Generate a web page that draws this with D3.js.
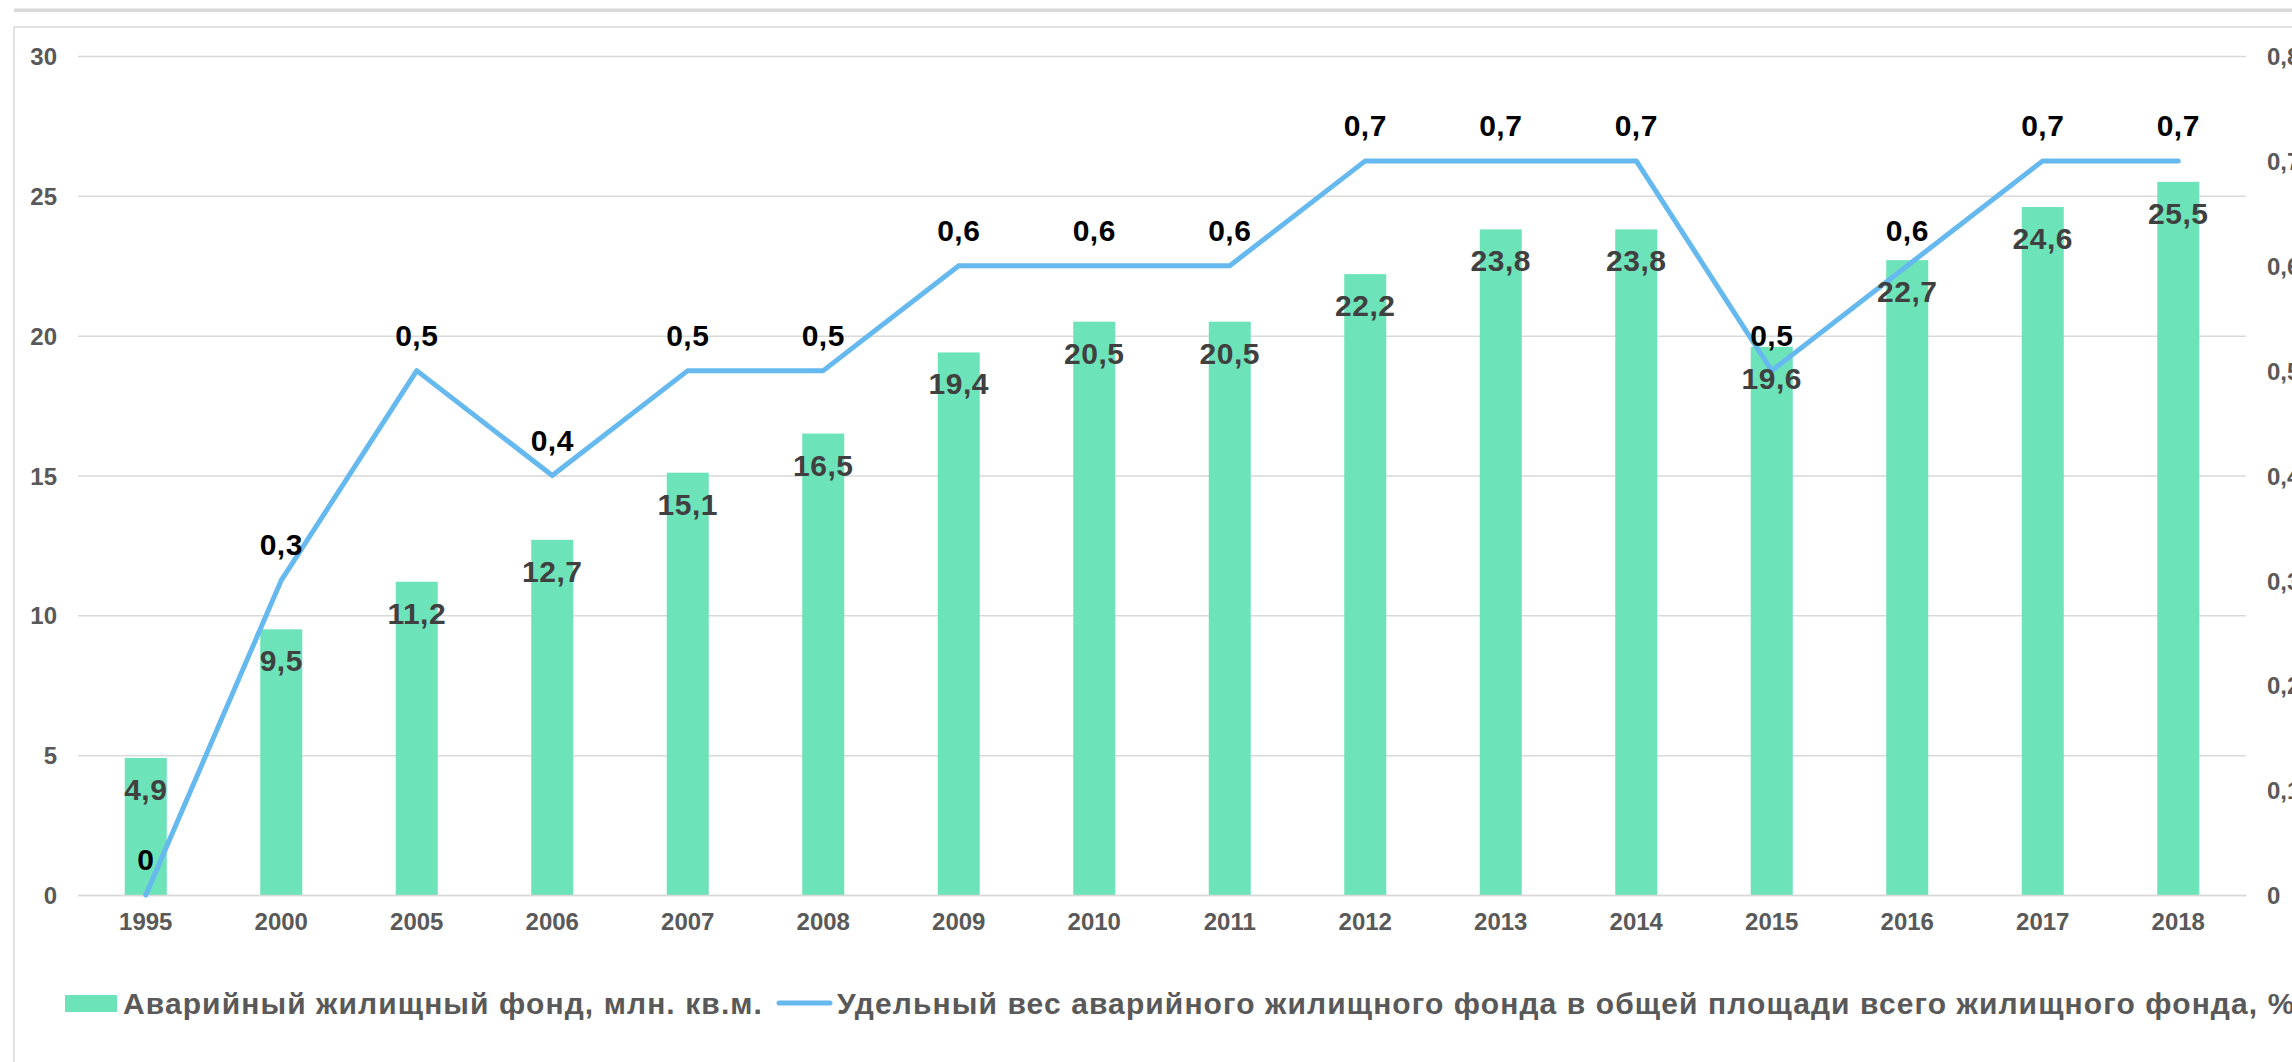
<!DOCTYPE html>
<html>
<head>
<meta charset="utf-8">
<script src="https://cdn.jsdelivr.net/npm/d3@7"></script>
<style>
  body { margin: 0; background: #fff; }
  svg { display: block; font-family: "Liberation Sans", Arial, sans-serif; font-weight: bold; }
</style>
</head>
<body>
<svg id="chart" width="2292" height="1062"></svg>
<script>
const years = ["1995","2000","2005","2006","2007","2008","2009","2010","2011","2012","2013","2014","2015","2016","2017","2018"];
const fund  = [4.9, 9.5, 11.2, 12.7, 15.1, 16.5, 19.4, 20.5, 20.5, 22.2, 23.8, 23.8, 19.6, 22.7, 24.6, 25.5];
const share = [0, 0.3, 0.5, 0.4, 0.5, 0.5, 0.6, 0.6, 0.6, 0.7, 0.7, 0.7, 0.5, 0.6, 0.7, 0.7];
const leftTicks  = [0, 5, 10, 15, 20, 25, 30];
const rightTicks = [0, 0.1, 0.2, 0.3, 0.4, 0.5, 0.6, 0.7, 0.8];
const legendBar  = "Аварийный жилищный фонд, млн. кв.м.";
const legendLine = "Удельный вес аварийного жилищного фонда в общей площади всего жилищного фонда, %";

const svg = d3.select("#chart");
const ru = d3.formatLocale({decimal: ",", thousands: " ", grouping: [3], currency: ["", ""]});
const fmt = ru.format(".1~f");

const plot = { left: 78, right: 2246, top: 56, bottom: 895 };
const barColor = "#6de3b9", lineColor = "#65b9ee", grid = "#d9d9d9", axisText = "#595959";

// frame
svg.append("rect").attr("x", 14).attr("y", 8.5).attr("width", 2292).attr("height", 3.5).attr("fill", grid);
svg.append("rect").attr("x", 14).attr("y", 27).attr("width", 2400).attr("height", 1200)
   .attr("fill", "none").attr("stroke", grid).attr("stroke-width", 1.5);

const x  = d3.scaleBand().domain(years).range([plot.left, plot.right]).paddingInner(0.69).paddingOuter(0.345);
const yL = d3.scaleLinear().domain([0, 30]).range([plot.bottom, plot.top]);
const yR = d3.scaleLinear().domain([0, 0.8]).range([plot.bottom, plot.top]);

// gridlines + left axis
const axL = svg.append("g").attr("transform", `translate(${plot.left},0)`)
  .call(d3.axisLeft(yL).tickValues(leftTicks).tickSize(-(plot.right - plot.left)).tickPadding(21).tickFormat(fmt));
axL.select(".domain").remove();
axL.selectAll("line").attr("stroke", grid).attr("stroke-width", 1.5);
axL.selectAll("text").attr("fill", axisText).style("font-size", "24px").attr("dy", "0.36em");

// right axis
const axR = svg.append("g").attr("transform", `translate(${plot.right},0)`)
  .call(d3.axisRight(yR).tickValues(rightTicks).tickSize(0).tickPadding(21).tickFormat(fmt));
axR.select(".domain").remove();
axR.selectAll("text").attr("fill", axisText).style("font-size", "24px").attr("dy", "0.36em");

// bars
svg.append("g").selectAll("rect").data(fund).join("rect")
  .attr("x", (d, i) => x(years[i]))
  .attr("y", d => yL(d))
  .attr("width", x.bandwidth())
  .attr("height", d => yL(0) - yL(d))
  .attr("fill", barColor);

// x axis
const axX = svg.append("g").attr("transform", `translate(0,${plot.bottom})`)
  .call(d3.axisBottom(x).tickSize(0).tickPadding(18));
axX.select(".domain").attr("stroke", grid).attr("stroke-width", 1.5);
axX.selectAll("text").attr("fill", axisText).style("font-size", "24px");

// line
const cx = i => x(years[i]) + x.bandwidth() / 2;
svg.append("path").datum(share)
  .attr("fill", "none").attr("stroke", lineColor).attr("stroke-width", 5)
  .attr("stroke-linejoin", "round").attr("stroke-linecap", "round")
  .attr("d", d3.line().x((d, i) => cx(i)).y(d => yR(d)));

// bar labels
svg.append("g").selectAll("text").data(fund).join("text")
  .attr("x", (d, i) => cx(i))
  .attr("y", d => yL(d) + 42)
  .attr("text-anchor", "middle").attr("fill", "#404040")
  .style("font-size", "30px").style("letter-spacing", "0.5px")
  .text(d => fmt(d));

// line labels
svg.append("g").selectAll("text").data(share).join("text")
  .attr("x", (d, i) => cx(i))
  .attr("y", d => yR(d) - 25)
  .attr("text-anchor", "middle").attr("fill", "#000")
  .style("font-size", "30px").style("letter-spacing", "0.5px")
  .text(d => fmt(d));

// legend
const lg = svg.append("g").style("font-size", "30px").style("letter-spacing", "1.1px").attr("fill", axisText);
lg.append("rect").attr("x", 65).attr("y", 995).attr("width", 52).attr("height", 17).attr("fill", barColor);
lg.append("text").attr("x", 123).attr("y", 1014).text(legendBar);
lg.append("line").attr("x1", 779).attr("x2", 830).attr("y1", 1003).attr("y2", 1003)
  .attr("stroke", lineColor).attr("stroke-width", 5).attr("stroke-linecap", "round");
lg.append("text").attr("x", 837).attr("y", 1014).text(legendLine);
</script>
</body>
</html>
